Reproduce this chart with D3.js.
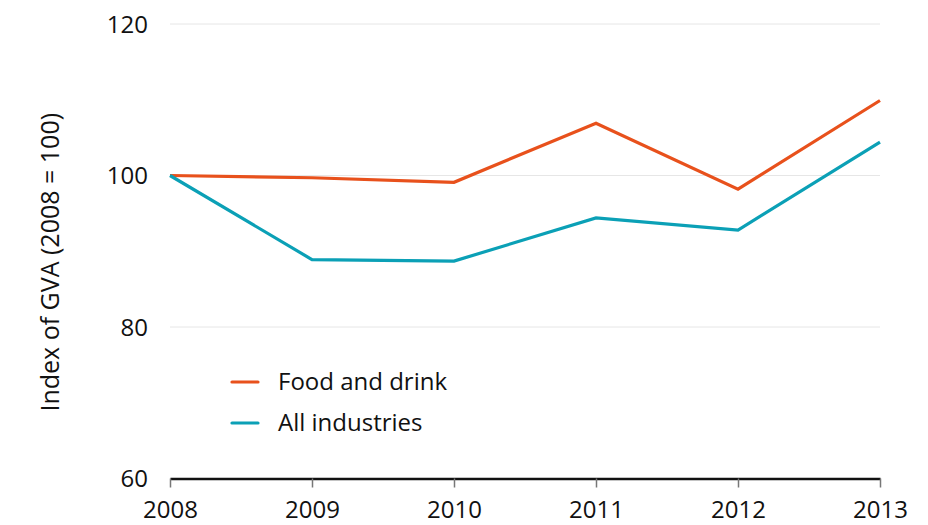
<!DOCTYPE html>
<html>
<head>
<meta charset="utf-8">
<script src="https://cdn.jsdelivr.net/npm/d3@7.9.0/dist/d3.min.js"></script>
<style>
  body { margin: 0; background: #fff; }
  svg text { font-family: "Open Sans", "Noto Sans", sans-serif; fill: #111; }
</style>
</head>
<body>
<svg id="chart" width="928" height="525"></svg>
<script>
// GVA index values (2008 = 100)
const years = [2008, 2009, 2010, 2011, 2012, 2013];
const foodDrink = [100, 99.7, 99.1, 106.9, 98.2, 109.9];
const allIndustries = [100, 88.9, 88.7, 94.4, 92.8, 104.4];
const yTicks = [60, 80, 100, 120];

const series = [
    { name: 'Food and drink', values: foodDrink, color: '#e8511c' },
    { name: 'All industries', values: allIndustries, color: '#0ba0b6' },
];

const margin = { top: 24, right: 48, bottom: 46, left: 170 };
const width = 928, height = 525;

const svg = d3.select('#chart');

const x = d3.scaleLinear()
    .domain([2008, 2013])
    .range([margin.left, width - margin.right]);

const y = d3.scaleLinear()
    .domain([60, 120])
    .range([height - margin.bottom - 0.5, margin.top]);

// gridlines
svg.append('g')
    .selectAll('line')
    .data(yTicks.filter(d => d !== 60))
    .join('line')
    .attr('x1', x(2008))
    .attr('x2', x(2013))
    .attr('y1', d => y(d))
    .attr('y2', d => y(d))
    .attr('stroke', '#e6e6e6')
    .attr('stroke-width', 1);

// y tick labels (no axis line)
svg.append('g')
    .selectAll('text')
    .data(yTicks)
    .join('text')
    .attr('x', 148)
    .attr('y', d => y(d))
    .attr('dy', '0.36em')
    .attr('text-anchor', 'end')
    .attr('font-size', 24)
    .text(d => d);

// x axis
const xAxis = svg.append('g')
    .attr('transform', `translate(0,${y(60)})`)
    .call(d3.axisBottom(x).tickValues(years).tickFormat(d3.format('d'))
        .tickSize(9).tickSizeOuter(0).tickPadding(13));
xAxis.select('.domain').attr('stroke', '#111').attr('stroke-width', 2.5);
xAxis.selectAll('.tick line').attr('stroke', '#777').attr('stroke-width', 1.5);
xAxis.selectAll('.tick text').attr('font-size', 24).attr('font-family', '"Open Sans", "Noto Sans", sans-serif').attr('fill', '#111');

// y axis title
svg.append('text')
    .attr('transform', `translate(59,${(y(60) + y(120)) / 2 + 11}) rotate(-90)`)
    .attr('text-anchor', 'middle')
    .attr('font-size', 25)
    .text('Index of GVA (2008 = 100)');

// lines
const line = d3.line()
    .x((d, i) => x(years[i]))
    .y(d => y(d));

svg.append('g')
    .selectAll('path')
    .data(series)
    .join('path')
    .attr('d', d => line(d.values))
    .attr('fill', 'none')
    .attr('stroke', d => d.color)
    .attr('stroke-width', 3.2)
    .attr('stroke-linejoin', 'miter');

// legend
const legend = svg.append('g')
    .selectAll('g')
    .data(series)
    .join('g')
    .attr('transform', (d, i) => `translate(232,${382 + i * 41})`);

legend.append('line')
    .attr('x1', 0)
    .attr('x2', 26)
    .attr('stroke', d => d.color)
    .attr('stroke-width', 3.2)
    .attr('stroke-linecap', 'round');

legend.append('text')
    .attr('x', 46)
    .attr('dy', '0.35em')
    .attr('font-size', 24)
    .text(d => d.name);
</script>
</body>
</html>
